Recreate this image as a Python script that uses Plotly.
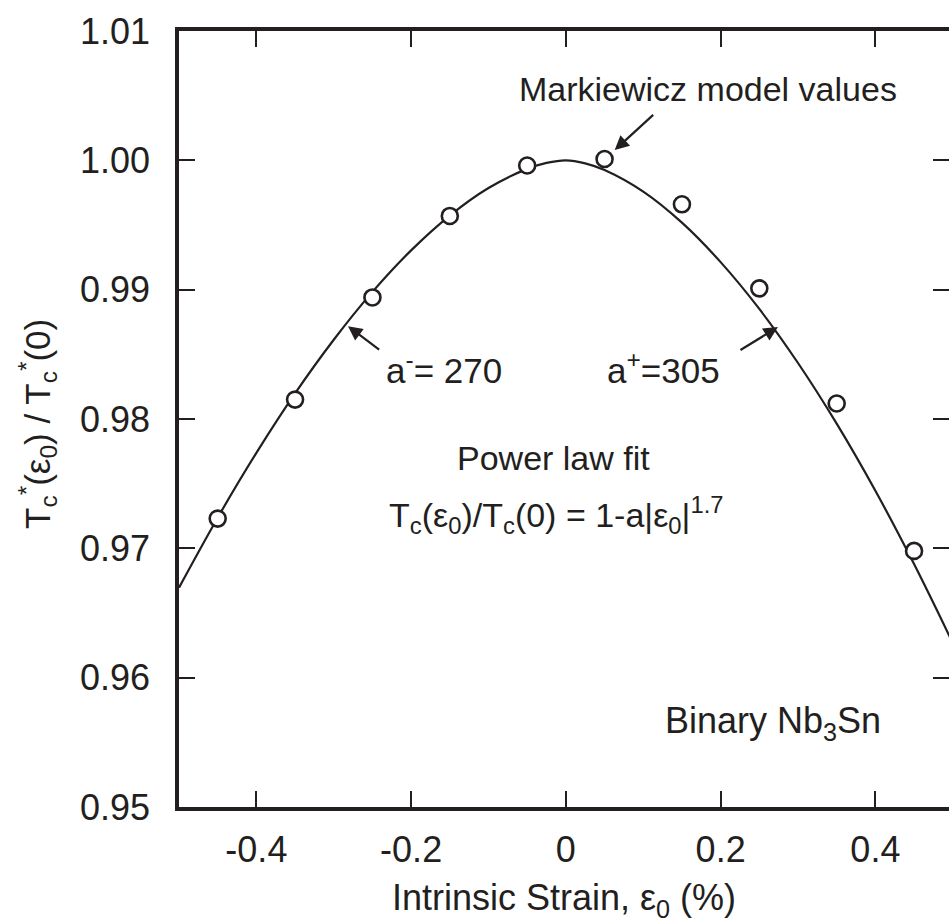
import plotly.graph_objects as go

# Markiewicz model values (open circles)
strain_pts = [-0.45, -0.35, -0.25, -0.15, -0.05, 0.05, 0.15, 0.25, 0.35, 0.45]
tc_pts = [0.9723, 0.9815, 0.9894, 0.9957, 0.9996, 1.0001, 0.9966, 0.9901, 0.9812, 0.9698]

# Power-law fit curve
strain_fit = [-0.5, -0.45, -0.4, -0.35, -0.3, -0.25, -0.2, -0.15, -0.1, -0.05, -0.025,
              0.0, 0.025, 0.05, 0.1, 0.15, 0.2, 0.25, 0.3, 0.35, 0.4, 0.45, 0.5]
tc_fit = [0.96696, 0.97237, 0.97738, 0.98198, 0.98613, 0.98983, 0.99304, 0.99573, 0.99786,
          0.99934, 0.99980, 1.0, 0.99977, 0.99925, 0.99758, 0.99518, 0.99213, 0.98851,
          0.98433, 0.97964, 0.97445, 0.96878, 0.96268]

x_ticks = [-0.4, -0.2, 0.0, 0.2, 0.4]
x_tick_labels = ["-0.4", "-0.2", "0", "0.2", "0.4"]
y_ticks = [0.95, 0.96, 0.97, 0.98, 0.99, 1.00, 1.01]
y_tick_labels = ["0.95", "0.96", "0.97", "0.98", "0.99", "1.00", "1.01"]

INK = "#231f20"
FONT = "Liberation Sans, Arial, sans-serif"

fig = go.Figure()
fig.add_trace(go.Scatter(x=strain_fit, y=tc_fit, mode="lines", line=dict(color=INK, width=2.2, shape="spline"),
                         hoverinfo="skip", showlegend=False))
fig.add_trace(go.Scatter(x=strain_pts, y=tc_pts, mode="markers",
                         marker=dict(symbol="circle", size=16, color="white", line=dict(color=INK, width=2.6)),
                         showlegend=False))
# invisible trace to show right-side ticks
fig.add_trace(go.Scatter(x=strain_pts, y=tc_pts, mode="markers", yaxis="y2", marker=dict(opacity=0),
                         hoverinfo="skip", showlegend=False))

W, H = 949, 923
L, T, B = 179, 31, 116
plot_w = W - L
plot_h = H - T - B
xmin = -0.5
xmax = xmin + plot_w / 773.75

fig.update_layout(
    width=W, height=H,
    margin=dict(l=L, r=0, t=T, b=B),
    paper_bgcolor="white", plot_bgcolor="white",
    font=dict(family=FONT, color=INK, size=36),
    xaxis=dict(range=[xmin, xmax], tickvals=x_ticks, ticktext=x_tick_labels,
               ticks="inside", ticklen=16, tickwidth=2, tickcolor=INK,
               showline=True, linewidth=3.5, linecolor=INK, mirror="ticks",
               showgrid=False, zeroline=False, ticklabelstandoff=8,
               tickfont=dict(size=36),
               title=dict(text="Intrinsic Strain, ε<sub>0</sub> (%)", font=dict(size=36), standoff=18)),
    yaxis=dict(range=[0.95, 1.01], tickvals=y_ticks, ticktext=y_tick_labels,
               ticks="inside", ticklen=16, tickwidth=2, tickcolor=INK,
               showline=True, linewidth=3.5, linecolor=INK, mirror=False,
               showgrid=False, zeroline=False, ticklabelstandoff=18,
               tickfont=dict(size=36)),
    yaxis2=dict(range=[0.95, 1.01], overlaying="y", side="right", tickvals=y_ticks,
                ticks="inside", ticklen=16, tickwidth=2, tickcolor=INK,
                showticklabels=False, showline=False, showgrid=False, zeroline=False),
)

# y-axis title as rotated annotation
fig.add_annotation(x=(37 - L) / plot_w, y=(T + plot_h - 424) / plot_h, xref="paper", yref="paper",
                   text="T<sub>c</sub><sup>*</sup>(ε<sub>0</sub>) / T<sub>c</sub><sup>*</sup>(0)",
                   textangle=-90, showarrow=False, xanchor="center", yanchor="middle",
                   font=dict(family=FONT, color=INK, size=35))

ann_font = dict(family=FONT, color=INK, size=34)
texts = [
    ("Markiewicz model values", 0.1833, 1.00554, 34),
    ("a<sup>-</sup>= 270", -0.1579, 0.98397, 35),
    ("a<sup>+</sup>=305", 0.1265, 0.98397, 35),
    ("Power law fit", -0.0158, 0.97697, 34),
    ("T<sub>c</sub>(ε<sub>0</sub>)/T<sub>c</sub>(0) = 1-a|ε<sub>0</sub>|<sup>1.7</sup>", -0.0119, 0.97258, 34),
    ("Binary Nb<sub>3</sub>Sn", 0.2672, 0.9565, 36),
]
for t, x, y, s in texts:
    fig.add_annotation(x=x, y=y, xref="x", yref="y", text=t, showarrow=False,
                       font=dict(family=FONT, color=INK, size=s), xanchor="center", yanchor="middle")

arrows = [
    (0.0631, 1.00079, 0.1148, 1.00362),
    (-0.2816, 0.98718, -0.2394, 0.98528),
    (0.2741, 0.98711, 0.2237, 0.98526),
]
for hx, hy, tx, ty in arrows:
    fig.add_annotation(x=hx, y=hy, ax=tx, ay=ty, xref="x", yref="y", axref="x", ayref="y",
                       text="", showarrow=True, arrowhead=2, arrowsize=1.3, arrowwidth=2.2,
                       arrowcolor=INK)

fig.write_html("out.html", config={"displayModeBar": False},
               post_script="document.body.style.margin='0px';document.body.style.overflow='hidden';")
